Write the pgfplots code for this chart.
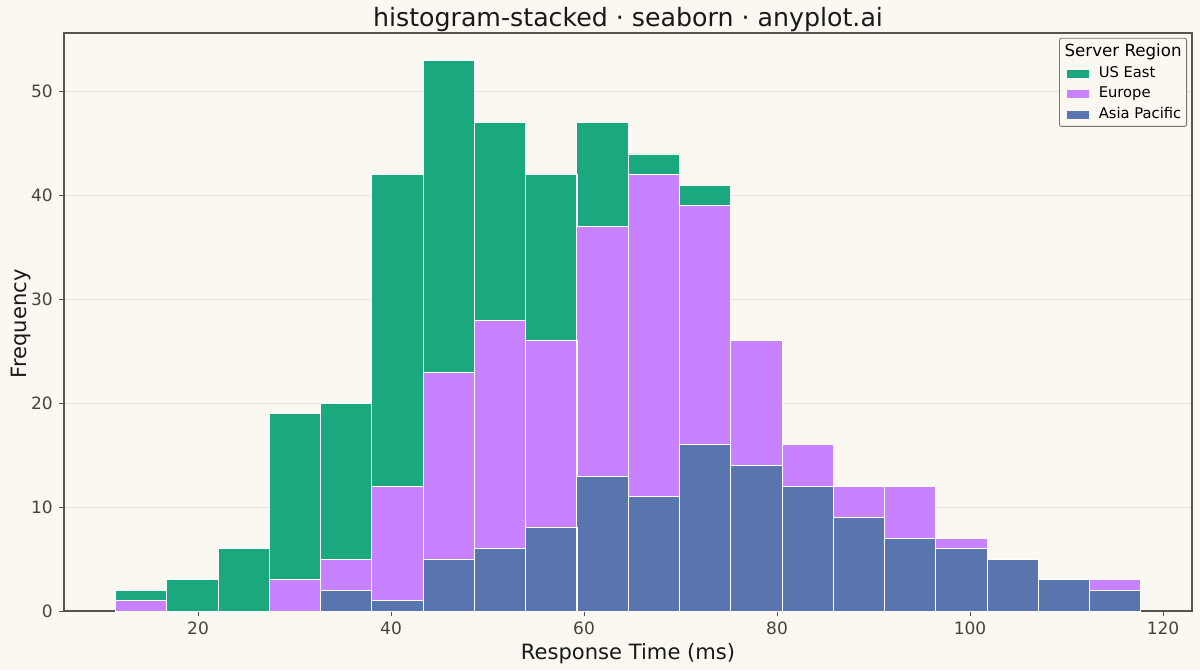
\documentclass[border=0pt]{standalone}
\usepackage{pgfplots}
\pgfplotsset{compat=1.18}
\usepackage{pgfplotstable}
\usepackage{fontspec}
\setmainfont{DejaVu Sans}
\definecolor{bg}{HTML}{FAF8F1}
\definecolor{cgreen}{HTML}{1AA87E}
\definecolor{cpurple}{HTML}{C882FF}
\definecolor{cblue}{HTML}{5875AD}
\definecolor{axisc}{HTML}{55554F}
\definecolor{tickc}{HTML}{44443F}
\definecolor{gridc}{HTML}{E6E3DB}
\pgfplotstableread{
x asia europe useast
14.11 0 1 1
19.42 0 0 3
24.73 0 0 6
30.05 0 3 16
35.36 2 3 15
40.67 1 11 30
45.99 5 18 30
51.30 6 22 19
56.61 8 18 16
61.92 13 24 10
67.24 11 31 2
72.55 16 23 2
77.86 14 12 0
83.18 12 4 0
88.49 9 3 0
93.80 7 5 0
99.11 6 1 0
104.43 5 0 0
109.74 3 0 0
115.05 2 1 0
}\datatable
\pgfplotsset{
  layers/mylayers/.define layer set={axis background,axis grid,main,axis ticks,axis lines,axis tick labels,axis descriptions,axis foreground}{},
  set layers=mylayers,
}
\begin{document}
\begin{tikzpicture}
\fill[bg] (0,0) rectangle (720pt,402pt);
\begin{axis}[
  at={(38.4pt,35.4pt)}, anchor=south west,
  scale only axis, width=676.8pt, height=346.8pt,
  xmin=6.11, xmax=123.0, ymin=0, ymax=55.65,
  ybar stacked, bar width=5.313,
  xtick={20,40,60,80,100,120},
  ytick={0,10,20,30,40,50},
  tick align=outside,
  tick pos=left,
  major tick length=3.2pt,
  tick style={axisc, line width=0.6pt},
  axis line style={axisc, line width=0.65pt},
  ymajorgrids, grid style={gridc, line width=0.5pt},
  /pgf/number format/assume math mode=true,
  ticklabel style={font=\fontsize{10.2}{12}\selectfont, text=tickc},
  xticklabel style={yshift=0.5pt},
  xlabel={Response Time (ms)},
  ylabel={Frequency},
  label style={font=\fontsize{12.65}{14}\selectfont, text=black!90},
  xlabel style={at={(axis description cs:0.5,0)}, anchor=base, yshift=-29pt},
  ylabel style={at={(axis description cs:0,0.5)}, anchor=center, rotate=0, yshift=25.8pt, xshift=-1.2pt},
  title={histogram-stacked · seaborn · anyplot.ai},
  title style={font=\fontsize{15.15}{18}\selectfont, text=black!90, at={(axis description cs:0.5,1)}, anchor=base, yshift=-2.4pt},
  reverse legend,
  legend style={at={(axis description cs:0.9956,0.9915)}, anchor=north east,
    font=\fontsize{8.85}{10.5}\selectfont, draw=axisc!80, line width=0.5pt, fill=bg, rounded corners=1.2pt,
    inner xsep=1pt, inner ysep=1.3pt, row sep=0.3pt},
  legend cell align=left,
  area legend,
  legend image code/.code={\path (-3pt,0) rectangle (17.05pt,0);\fill[#1, sharp corners, draw=none] (0cm,-0.1cm) rectangle (13.2pt,0.07cm);},
]
\addplot[fill=cblue, draw=white, line width=0.55pt] table[x=x,y=asia]{\datatable};
\addlegendentry{Asia Pacific}
\addplot[fill=cpurple, draw=white, line width=0.55pt] table[x=x,y=europe]{\datatable};
\addlegendentry{Europe}
\addplot[fill=cgreen, draw=white, line width=0.55pt] table[x=x,y=useast]{\datatable};
\addlegendentry{US East}
\addlegendimage{empty legend}
\addlegendentry{\hspace{-0.72cm}{\fontsize{10}{11}\selectfont Server Region}}
\end{axis}
\end{tikzpicture}
\end{document}
